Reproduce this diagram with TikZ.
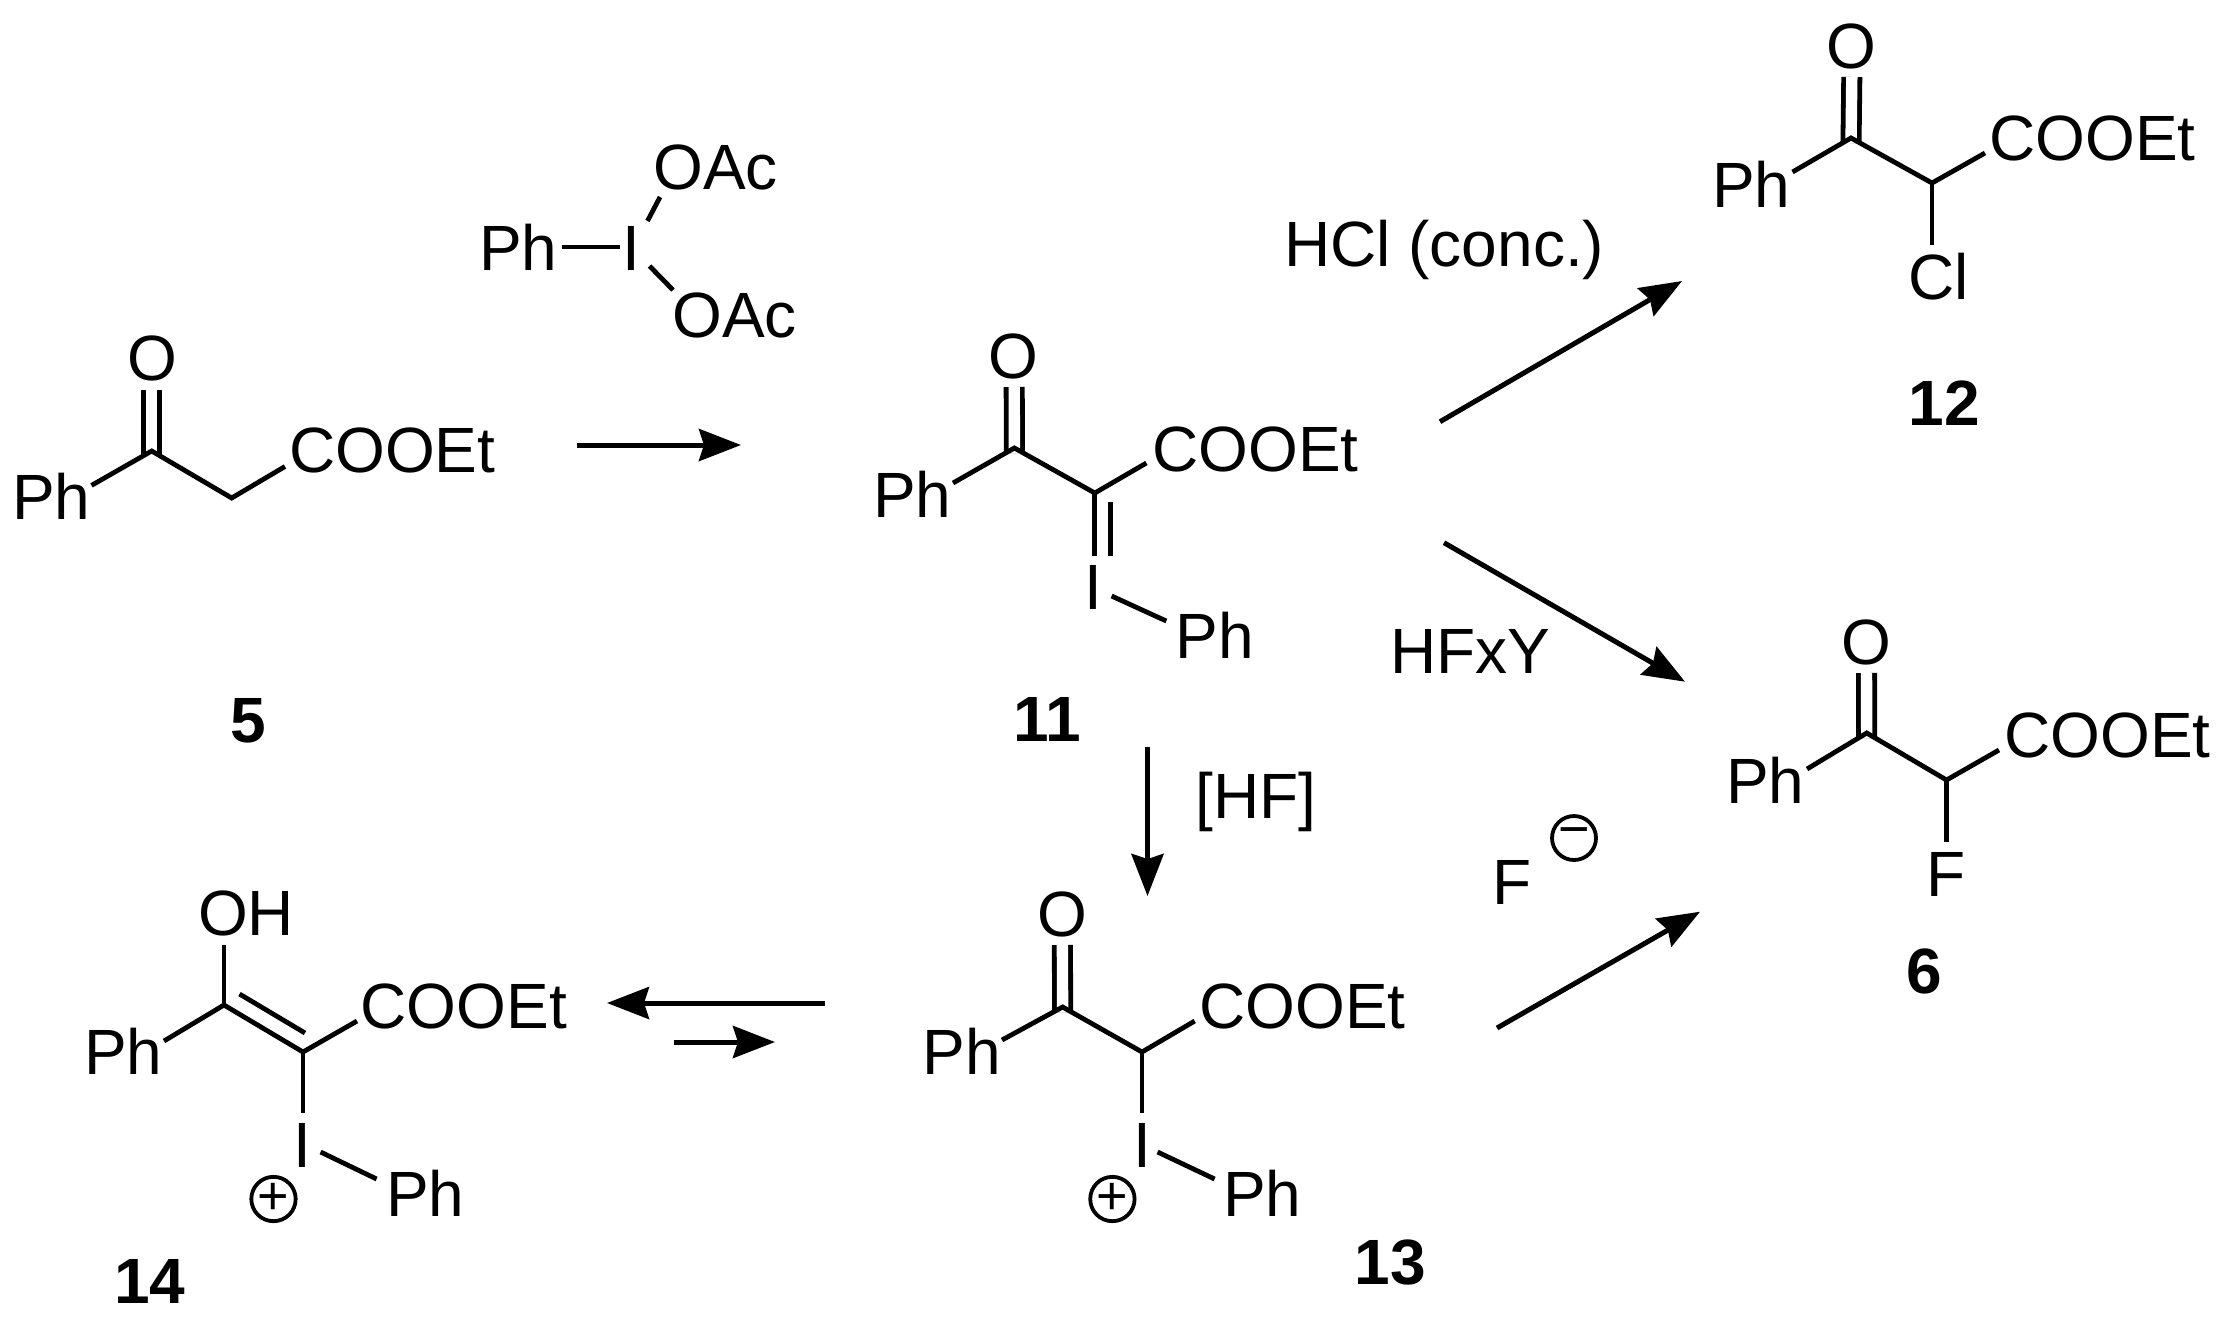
\documentclass[tikz,border=0pt]{standalone}
\usepackage{fontspec}
\setmainfont{Liberation Sans}
\usetikzlibrary{arrows.meta}

\begin{document}
\begin{tikzpicture}[x=1pt,y=-1pt,
		atom/.style={anchor=base west,inner sep=0pt,font=\fontsize{64}{70}\selectfont},
		iodine/.style={anchor=base,inner sep=0pt,font=\fontsize{64}{70}\selectfont},
		cmpd/.style={anchor=base,inner sep=0pt,font=\bfseries\fontsize{64}{70}\selectfont},
		charge/.style={draw,circle,line width=3.8pt,minimum size=44pt,inner sep=0pt,font=\fontsize{54}{54}\selectfont},
		bond/.style={line width=4.8pt},
		dbond/.style={line width=4.8pt,double,double distance=11.4pt},
		rxn/.style={line width=5pt,-{Stealth[length=42pt,width=32pt,inset=5pt]}}]
		\useasboundingbox (0,0) rectangle (2226,1323);

		% reagent
		\node[atom] (phR) at (479,270) {Ph};
		\node[iodine] (iR) at (631,270) {I};
		\node[atom] (oacA) at (653,189) {OAc};
		\node[atom] (oacB) at (672,337) {OAc};
		\coordinate (rA) at (562,247);
		\coordinate (rB) at (620,247);
		\coordinate (rC) at (660,197);
		\coordinate (rD) at (647.5,221);
		\coordinate (rE) at (649.5,266);
		\coordinate (rF) at (673,290);
		\draw[bond] (rA) -- (rB);
		\draw[bond] (rC) -- (rD);
		\draw[bond] (rE) -- (rF);

		% 5
		\node[atom] (ph5) at (12,519) {Ph};
		\node[atom] (o5) at (127,380) {O};
		\node[atom] (coo5) at (289,472) {COOEt};
		\node[cmpd] (n5) at (248,742) {5};
		\coordinate (c5a) at (151.7,451);
		\coordinate (c5b) at (231.7,498);
		\coordinate (e5ph) at (91.5,485.4);
		\coordinate (e5coo) at (285,466.5);
		\coordinate (e5o) at (151.7,389.5);
		\draw[dbond] ([yshift=-5pt]c5a) -- (e5o);
		\draw[bond] (e5ph) -- (c5a) -- (c5b) -- (e5coo);

		% 11
		\node[atom] (ph11) at (873,517) {Ph};
		\node[atom] (o11) at (988,378) {O};
		\node[atom] (coo11) at (1152,471) {COOEt};
		\node[iodine] (i11) at (1093.6,609) {I};
		\node[atom] (phI11) at (1175.5,658) {Ph};
		\node[cmpd] (n11) at (1047,741) {11};
		\coordinate (c11a) at (1014.4,448);
		\coordinate (c11b) at (1094.8,493);
		\coordinate (e11ph) at (953,483);
		\coordinate (e11coo) at (1146.4,463);
		\coordinate (e11o) at (1014.2,387);
		\coordinate (e11i) at (1094.8,556);
		\coordinate (d11a) at (1110.8,502);
		\coordinate (d11b) at (1110.8,556);
		\coordinate (e11j) at (1111.6,596);
		\coordinate (e11k) at (1166.3,621);
		\draw[dbond] ([yshift=-5pt]c11a) -- (e11o);
		\draw[bond] (e11ph) -- (c11a) -- (c11b) -- (e11coo);
		\draw[bond] (c11b) -- (e11i);
		\draw[bond] (d11a) -- (d11b);
		\draw[bond] (e11j) -- (e11k);

		% 12
		\node[atom] (ph12) at (1712,207) {Ph};
		\node[atom] (o12) at (1826,68) {O};
		\node[atom] (coo12) at (1989,160) {COOEt};
		\node[atom] (cl12) at (1908,299) {Cl};
		\node[cmpd] (n12) at (1944,425) {12};
		\coordinate (c12a) at (1851,138);
		\coordinate (c12b) at (1932,183);
		\coordinate (e12ph) at (1792.5,172);
		\coordinate (e12coo) at (1985,153);
		\coordinate (e12o) at (1851.8,77);
		\coordinate (e12cl) at (1932,245);
		\draw[dbond] ([yshift=-5pt]c12a) -- (e12o);
		\draw[bond] (e12ph) -- (c12a) -- (c12b) -- (e12coo);
		\draw[bond] (c12b) -- (e12cl);

		% 6
		\node[atom] (ph6) at (1726,803) {Ph};
		\node[atom] (o6) at (1841,664) {O};
		\node[atom] (coo6) at (2004,757) {COOEt};
		\node[atom] (f6) at (1926,896) {F};
		\node[cmpd] (n6) at (1924,993) {6};
		\coordinate (c6a) at (1866.7,733);
		\coordinate (c6b) at (1946.5,780);
		\coordinate (e6ph) at (1807,769);
		\coordinate (e6coo) at (1999,750);
		\coordinate (e6o) at (1866.5,673);
		\coordinate (e6f) at (1946.5,842);
		\draw[dbond] ([yshift=-5pt]c6a) -- (e6o);
		\draw[bond] (e6ph) -- (c6a) -- (c6b) -- (e6coo);
		\draw[bond] (c6b) -- (e6f);

		% 13
		\node[atom] (ph13) at (922.5,1074) {Ph};
		\node[atom] (o13) at (1037,936) {O};
		\node[atom] (coo13) at (1199,1028) {COOEt};
		\node[iodine] (i13) at (1142,1167) {I};
		\node[atom] (phI13) at (1223,1216) {Ph};
		\node[charge] (plus13) at (1112.4,1199) {+};
		\node[cmpd] (n13) at (1390,1284) {13};
		\coordinate (c13a) at (1062.6,1007);
		\coordinate (c13b) at (1142,1052);
		\coordinate (e13ph) at (1002,1040);
		\coordinate (e13coo) at (1194.7,1021);
		\coordinate (e13o) at (1062.4,945);
		\coordinate (e13i) at (1142,1113);
		\coordinate (e13j) at (1157.6,1152);
		\coordinate (e13k) at (1214.6,1179);
		\draw[dbond] ([yshift=-5pt]c13a) -- (e13o);
		\draw[bond] (e13ph) -- (c13a) -- (c13b) -- (e13coo);
		\draw[bond] (c13b) -- (e13i);
		\draw[bond] (e13j) -- (e13k);

		% 14
		\node[atom] (ph14) at (84,1074) {Ph};
		\node[atom] (oh14) at (198,935) {OH};
		\node[atom] (coo14) at (360.5,1028) {COOEt};
		\node[iodine] (i14) at (302,1167) {I};
		\node[atom] (phI14) at (386,1216) {Ph};
		\node[charge] (plus14) at (273.5,1199) {+};
		\node[cmpd] (n14) at (150,1303) {14};
		\coordinate (c14a) at (224,1005);
		\coordinate (c14b) at (303,1052);
		\coordinate (e14ph) at (164,1041);
		\coordinate (e14coo) at (357,1021);
		\coordinate (e14oh) at (224,945);
		\coordinate (e14i) at (303,1113);
		\coordinate (d14a) at (239.5,994);
		\coordinate (d14b) at (305,1033);
		\coordinate (e14j) at (320.6,1152);
		\coordinate (e14k) at (376.6,1179);
		\draw[bond] (e14ph) -- (c14a) -- (c14b) -- (e14coo);
		\draw[bond] (e14oh) -- (c14a);
		\draw[bond] (c14b) -- (e14i);
		\draw[bond] (d14a) -- (d14b);
		\draw[bond] (e14j) -- (e14k);

		% conditions
		\node[atom] (hcl) at (1284,266) {HCl (conc.)};
		\node[atom] (hfxy) at (1390,673) {HFxY};
		\node[atom] (hf) at (1195,818) {[HF]};
		\node[atom] (fion) at (1492,904) {F};
		\node[charge] (minus) at (1574,838) {−};

		% arrows
		\coordinate (a1) at (577,445);
		\coordinate (a2) at (741,445);
		\coordinate (a3) at (1440,421.7);
		\coordinate (a4) at (1682,281);
		\coordinate (a5) at (1444,542.7);
		\coordinate (a6) at (1685,681.7);
		\coordinate (a7) at (1147.5,746.7);
		\coordinate (a8) at (1147.5,896);
		\coordinate (a9) at (1497,1028);
		\coordinate (a10) at (1700,911.7);
		\coordinate (a11) at (825,1003);
		\coordinate (a12) at (607,1003);
		\coordinate (a13) at (673.6,1042);
		\coordinate (a14) at (775,1042);
		\draw[rxn] (a1) -- (a2);
		\draw[rxn] (a3) -- (a4);
		\draw[rxn] (a5) -- (a6);
		\draw[rxn] (a7) -- (a8);
		\draw[rxn] (a9) -- (a10);
		\draw[rxn] (a11) -- (a12);
		\draw[rxn] (a13) -- (a14);
\end{tikzpicture}
\end{document}
